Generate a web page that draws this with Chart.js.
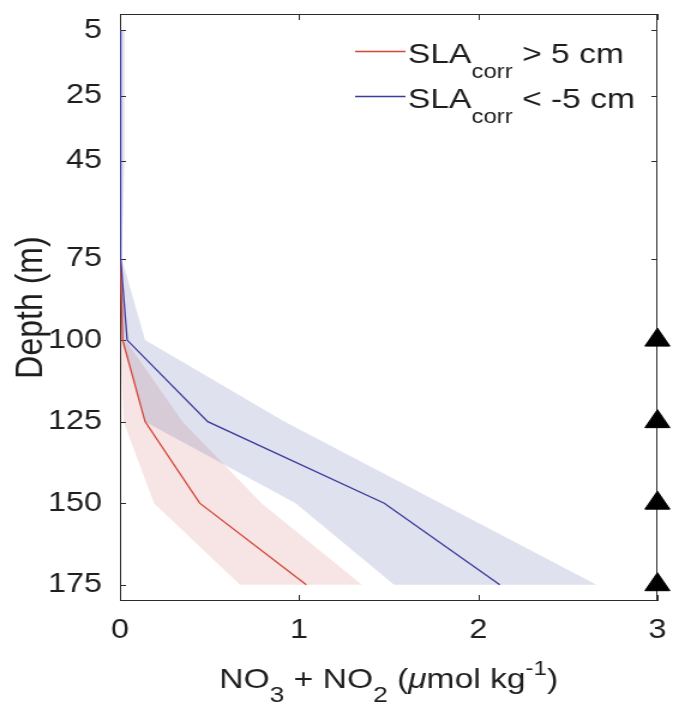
<!DOCTYPE html>
<html>
<head>
<meta charset="utf-8">
<script src="https://cdn.jsdelivr.net/npm/chart.js@4.4.1/dist/chart.umd.min.js"></script>
<style>
  html, body { margin: 0; padding: 0; background: #fff; overflow: hidden; }
  #wrap {
    position: absolute; left: 0; top: 0;
    width: 561px; height: 705px;
    transform: scaleX(1.19964); transform-origin: 0 0;
  }
</style>
</head>
<body>
<div id="wrap"><canvas id="profile"></canvas></div>
<script>
// depth levels (m) and NO3+NO2 profiles (umol/kg)
const depths = [5, 25, 45, 75, 100, 125, 150, 175];
const depthTicks = [5, 25, 45, 75, 100, 125, 150, 175];
const xTicks = [0, 1, 2, 3];

// SLA_corr > 5 cm
const posMean = [0.002, 0.002, 0.002, 0.003, 0.015, 0.14, 0.445, 1.04];
const posLow  = [0, 0, 0, 0, 0, 0.02, 0.19, 0.67];
const posHigh = [0.003, 0.003, 0.003, 0.005, 0.03, 0.35, 0.79, 1.35];

// SLA_corr < -5 cm
const negMean = [0.003, 0.003, 0.003, 0.005, 0.04, 0.49, 1.475, 2.12];
const negLow  = [0, 0, 0, 0, 0.01, 0.14, 0.98, 1.53];
const negHigh = [0.025, 0.025, 0.025, 0.01, 0.14, 0.92, 1.79, 2.66];

// depths with significant difference
const markerDepths = [100, 125, 150, 175];

const RED = '#d4453a';
const BLUE = '#3b3b9c';
const INK = '#1e1e1e';
const FONT = 'Liberation Sans, Arial, Helvetica, sans-serif';

const profile = (xs) => xs.map((v, i) => ({ x: v, y: depths[i] }));
// closed outline: low edge downwards, high edge back up
const band = (lo, hi) => profile(lo).concat(profile(hi).reverse());

function drawRich(ctx, parts, x, baseline, align) {
  const widths = parts.map(p => {
    ctx.font = (p.italic ? 'italic ' : '') + p.size + 'px ' + FONT;
    return ctx.measureText(p.t).width;
  });
  const total = widths.reduce((a, b) => a + b, 0);
  let cx = align === 'center' ? x - total / 2 : x;
  ctx.textAlign = 'left';
  ctx.textBaseline = 'alphabetic';
  parts.forEach((p, i) => {
    ctx.font = (p.italic ? 'italic ' : '') + p.size + 'px ' + FONT;
    ctx.fillText(p.t, cx, baseline + (p.dy || 0));
    cx += widths[i];
  });
}

const decorations = {
  id: 'decorations',
  beforeDatasetsDraw(chart) {
    const { ctx, chartArea: a, scales: { x, y } } = chart;
    ctx.save();
    ctx.strokeStyle = '#2a2a2a';
    ctx.lineWidth = 1;
    ctx.strokeRect(a.left + 0.5, a.top + 0.5, a.right - a.left - 1, a.bottom - a.top - 1);
    ctx.beginPath();
    y.ticks.forEach(t => {
      const py = Math.round(y.getPixelForValue(t.value)) + 0.5;
      ctx.moveTo(a.left, py); ctx.lineTo(a.left + 5, py);
      ctx.moveTo(a.right, py); ctx.lineTo(a.right - 5, py);
    });
    x.ticks.forEach(t => {
      const px = Math.round(x.getPixelForValue(t.value)) + 0.5;
      ctx.moveTo(px, a.bottom); ctx.lineTo(px, a.bottom - 6);
      ctx.moveTo(px, a.top); ctx.lineTo(px, a.top + 6);
    });
    ctx.stroke();
    ctx.restore();
  },
  afterDraw(chart) {
    const { ctx, chartArea: a } = chart;
    ctx.save();
    ctx.fillStyle = INK;

    // legend
    const entries = [
      { color: RED, text: ' > 5 cm', y: 51.5 },
      { color: BLUE, text: ' < -5 cm', y: 96.5 }
    ];
    entries.forEach(e => {
      ctx.strokeStyle = e.color;
      ctx.lineWidth = 1.5;
      ctx.beginPath();
      ctx.moveTo(296, e.y); ctx.lineTo(338, e.y);
      ctx.stroke();
      drawRich(ctx, [
        { t: 'SLA', size: 28 },
        { t: 'corr', size: 20, dy: 15 },
        { t: e.text, size: 28 }
      ], 340, e.y + 11.8);
    });

    // x axis title
    drawRich(ctx, [
      { t: 'NO', size: 28 },
      { t: '3', size: 22, dy: 14 },
      { t: ' + NO', size: 28 },
      { t: '2', size: 22, dy: 14 },
      { t: ' (', size: 28 },
      { t: 'μ', size: 28, italic: true },
      { t: 'mol kg', size: 28 },
      { t: '-1', size: 20, dy: -13 },
      { t: ')', size: 28 }
    ], (a.left + a.right) / 2, 688, 'center');

    // y axis title
    ctx.translate(34.5, (a.top + a.bottom) / 2);
    ctx.rotate(-Math.PI / 2);
    ctx.font = '32px ' + FONT;
    ctx.textAlign = 'center';
    ctx.textBaseline = 'alphabetic';
    ctx.fillText('Depth (m)', 0, 0);
    ctx.restore();
  }
};

new Chart(document.getElementById('profile'), {
  type: 'scatter',
  data: {
    datasets: [
      {
        data: band(posLow, posHigh),
        showLine: true, fill: 'shape',
        backgroundColor: 'rgba(205, 110, 105, 0.18)',
        borderWidth: 0, pointRadius: 0, order: 6
      },
      {
        data: band(negLow, negHigh),
        showLine: true, fill: 'shape',
        backgroundColor: 'rgba(70, 80, 160, 0.17)',
        borderWidth: 0, pointRadius: 0, order: 5
      },
      {
        data: profile(posMean),
        showLine: true, borderColor: RED, borderWidth: 1.3,
        pointRadius: 0, order: 3
      },
      {
        data: profile(negMean),
        showLine: true, borderColor: BLUE, borderWidth: 1.3,
        pointRadius: 0, order: 2
      },
      {
        data: markerDepths.map(d => ({ x: 3, y: d })),
        pointStyle: 'triangle', pointRadius: 12,
        backgroundColor: '#000', borderColor: '#000', borderWidth: 1,
        clip: false, order: 1
      }
    ]
  },
  options: {
    responsive: true,
    maintainAspectRatio: false,
    animation: false,
    layout: { padding: { top: 14, right: 12, left: 0, bottom: 0 } },
    plugins: { legend: { display: false }, tooltip: { enabled: false } },
    scales: {
      x: {
        type: 'linear', min: 0, max: 3,
        afterBuildTicks: s => { s.ticks = xTicks.map(v => ({ value: v })); },
        ticks: { font: { size: 27, family: FONT }, color: INK, padding: 13, autoSkip: false, maxRotation: 0 },
        grid: { display: false, drawTicks: false },
        border: { display: false },
        afterFit: s => { s.height = 104; s.paddingLeft = 0; s.paddingRight = 0; }
      },
      y: {
        type: 'linear', min: 0, max: 180, reverse: true,
        afterBuildTicks: s => { s.ticks = depthTicks.map(v => ({ value: v })); },
        ticks: { font: { size: 27, family: FONT }, color: INK, padding: 15, autoSkip: false },
        grid: { display: false, drawTicks: false },
        border: { display: false },
        afterFit: s => { s.width = 100; s.paddingTop = 0; s.paddingBottom = 0; }
      }
    }
  },
  plugins: [decorations]
});
</script>
</body>
</html>
